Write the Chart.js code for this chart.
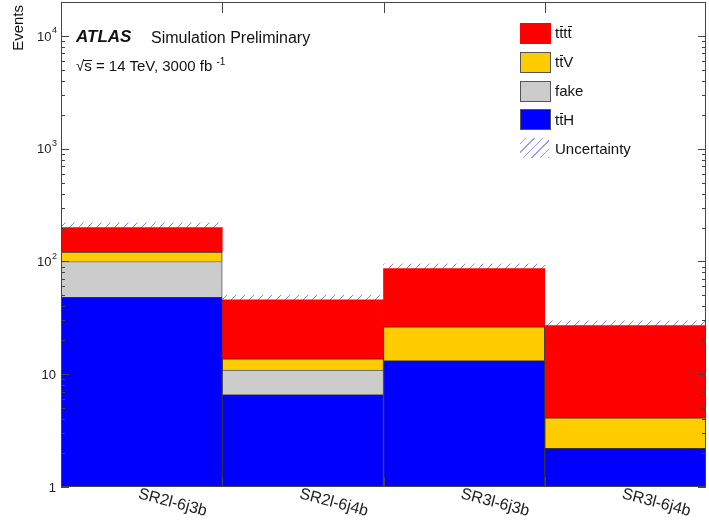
<!DOCTYPE html>
<html>
<head>
<meta charset="utf-8">
<script src="https://cdn.jsdelivr.net/npm/chart.js@4"></script>
<style>
  html, body { margin: 0; padding: 0; background: #fff; }
  #wrap { position: relative; width: 709px; height: 525px; font-family: "Liberation Sans", Arial, sans-serif; color: #111; }
  #c { position: absolute; left: 0; top: 0; }
  .t { position: absolute; white-space: nowrap; }
  .ob { position: relative; }
  .ob::before { content: ''; position: absolute; left: 0.5px; right: 0; top: 2px; border-top: 1px solid #111; }
  .ob.s::before { top: 3px; left: -1px; }
  .sw { position: absolute; left: 520px; width: 29px; height: 19px; border: 1px solid #555; }
  .lab { position: absolute; left: 555px; font-size: 15px; line-height: 18px; }
  sup { font-size: 10px; vertical-align: 0; position: relative; top: -6px; }
</style>
</head>
<body>
<div id="wrap">
  <canvas id="c" width="709" height="525"></canvas>

  <div class="t" style="left:9px;top:5px;font-size:15px;line-height:17px;writing-mode:vertical-rl;transform:rotate(180deg);">Events</div>

  <div class="t" style="left:76px;top:27px;font-size:17px;line-height:20px;font-weight:bold;font-style:italic;">ATLAS</div>
  <div class="t" style="left:151px;top:28px;font-size:16px;line-height:19px;">Simulation Preliminary</div>
  <div class="t" style="left:76px;top:56px;font-size:15px;line-height:19px;">√<span class="ob s">s</span> = 14 TeV, 3000 fb <sup>-1</sup></div>

  <!-- legend -->
  <div class="sw" style="top:23px;background:#ff0000;border-color:#ff0000;"></div>
  <div class="lab" style="top:24px;">t<span class="ob">t</span>t<span class="ob">t</span></div>
  <div class="sw" style="top:52px;background:#ffcc00;"></div>
  <div class="lab" style="top:53px;">t<span class="ob">t</span>V</div>
  <div class="sw" style="top:81px;background:#cccccc;"></div>
  <div class="lab" style="top:82px;">fake</div>
  <div class="sw" style="top:109px;background:#0000ff;"></div>
  <div class="lab" style="top:111px;">t<span class="ob">t</span>H</div>
  <div class="sw" style="top:138px;border:none;height:20px;background:repeating-linear-gradient(-45deg, rgba(120,120,235,0.75) 0px, rgba(120,120,235,0.75) 1px, transparent 1px, transparent 6px);"></div>
  <div class="lab" style="top:140px;">Uncertainty</div>
</div>

<script>
// Signal regions and expected yields per process
const categories = ['SR2l-6j3b', 'SR2l-6j4b', 'SR3l-6j3b', 'SR3l-6j4b'];
const ttH  = [48, 6.6, 13.2, 2.2];
const fake = [52, 4.3, 0, 0];
const ttV  = [21, 2.8, 13.1, 1.9];
const tttt = [79, 32, 60.4, 22.9];
// absolute size of the uncertainty band drawn above each stack
const uncertainty = [20, 4.5, 8.5, 2.7];

const yTickValues = [1, 10, 100, 1000, 10000];
const yTickBase = ['1', '10', '10', '10', '10'];
const yTickExp  = ['', '', '2', '3', '4'];

const FONT = '"Liberation Sans", Arial, sans-serif';

function hatchPattern() {
  const s = 9;
  const p = document.createElement('canvas');
  p.width = s; p.height = s;
  const g = p.getContext('2d');
  g.strokeStyle = 'rgba(115,115,235,0.85)';
  g.lineWidth = 1;
  g.beginPath();
  g.moveTo(0, s); g.lineTo(s, 0);
  g.moveTo(-1, 1); g.lineTo(1, -1);
  g.moveTo(s - 1, s + 1); g.lineTo(s + 1, s - 1);
  g.stroke();
  return g.createPattern(p, 'repeat');
}

// Frame with inward ticks, axis labels
const framePlugin = {
  id: 'frame',
  afterDatasetsDraw(chart) {
    const { ctx, chartArea: a, scales: { x, y } } = chart;
    ctx.save();
    ctx.strokeStyle = '#444';
    ctx.lineWidth = 1;
    ctx.strokeRect(a.left + 0.5, a.top + 0.5, a.right - a.left - 1, a.bottom - a.top - 1);

    ctx.beginPath();
    for (let d = 0; d <= 4; d++) {
      for (let m = 1; m <= 9; m++) {
        const v = m * Math.pow(10, d);
        if (v > y.max) break;
        const py = Math.round(y.getPixelForValue(v)) + 0.5;
        const len = m === 1 ? 8 : 4;
        ctx.moveTo(a.left, py); ctx.lineTo(a.left + len, py);
        ctx.moveTo(a.right, py); ctx.lineTo(a.right - len, py);
      }
    }
    for (let i = 0; i < categories.length - 1; i++) {
      const px = Math.round((x.getPixelForValue(i) + x.getPixelForValue(i + 1)) / 2) + 0.5;
      ctx.moveTo(px, a.bottom); ctx.lineTo(px, a.bottom - 10);
      ctx.moveTo(px, a.top); ctx.lineTo(px, a.top + 11);
    }
    ctx.stroke();

    // y tick labels with exponents
    ctx.fillStyle = '#222';
    ctx.textBaseline = 'middle';
    yTickValues.forEach((v, i) => {
      const py = y.getPixelForValue(v);
      let right = 57;
      if (yTickExp[i]) {
        ctx.font = '9px ' + FONT;
        ctx.textAlign = 'right';
        ctx.fillText(yTickExp[i], right, py - 5);
        right -= ctx.measureText(yTickExp[i]).width + 0.5;
      } else {
        right = 56;
      }
      ctx.font = '13px ' + FONT;
      ctx.textAlign = 'right';
      ctx.fillText(yTickBase[i], right, py + 1);
    });

    // rotated category labels
    ctx.font = '16px ' + FONT;
    ctx.textAlign = 'left';
    ctx.textBaseline = 'top';
    categories.forEach((c, i) => {
      const px = x.getPixelForValue(i);
      ctx.save();
      ctx.translate(px - 1, a.bottom - 1);
      ctx.rotate(0.26);
      ctx.fillText(c, 0, 0);
      ctx.restore();
    });
    ctx.restore();
  }
};

const dark = '#333';
new Chart(document.getElementById('c'), {
  type: 'bar',
  data: {
    labels: categories,
    datasets: [
      { label: 'ttH', data: ttH, backgroundColor: '#0000ff', borderColor: dark, borderWidth: 1 },
      { label: 'fake', data: fake, backgroundColor: '#cccccc', borderColor: '#555', borderWidth: 1 },
      { label: 'ttV', data: ttV, backgroundColor: '#ffcc00', borderColor: dark, borderWidth: 1 },
      { label: 'tttt', data: tttt, backgroundColor: '#ff0000', borderColor: '#ff0000', borderWidth: 0 },
      { label: 'Uncertainty', data: uncertainty, backgroundColor: hatchPattern(), borderWidth: 0 }
    ]
  },
  options: {
    responsive: false,
    animation: false,
    events: [],
    layout: { padding: { left: 0, right: 3, top: 2, bottom: 0 } },
    datasets: { bar: { barPercentage: 1, categoryPercentage: 1, borderSkipped: 'start' } },
    plugins: { legend: { display: false }, tooltip: { enabled: false } },
    scales: {
      x: {
        stacked: true,
        grid: { display: false, drawTicks: false },
        border: { display: false },
        ticks: { display: false },
        afterFit(s) { s.height = 38; }
      },
      y: {
        type: 'logarithmic',
        stacked: true,
        min: 1,
        max: 20000,
        grid: { display: false, drawTicks: false },
        border: { display: false },
        ticks: { display: false },
        afterFit(s) { s.width = 61; }
      }
    }
  },
  plugins: [framePlugin]
});
</script>
</body>
</html>
